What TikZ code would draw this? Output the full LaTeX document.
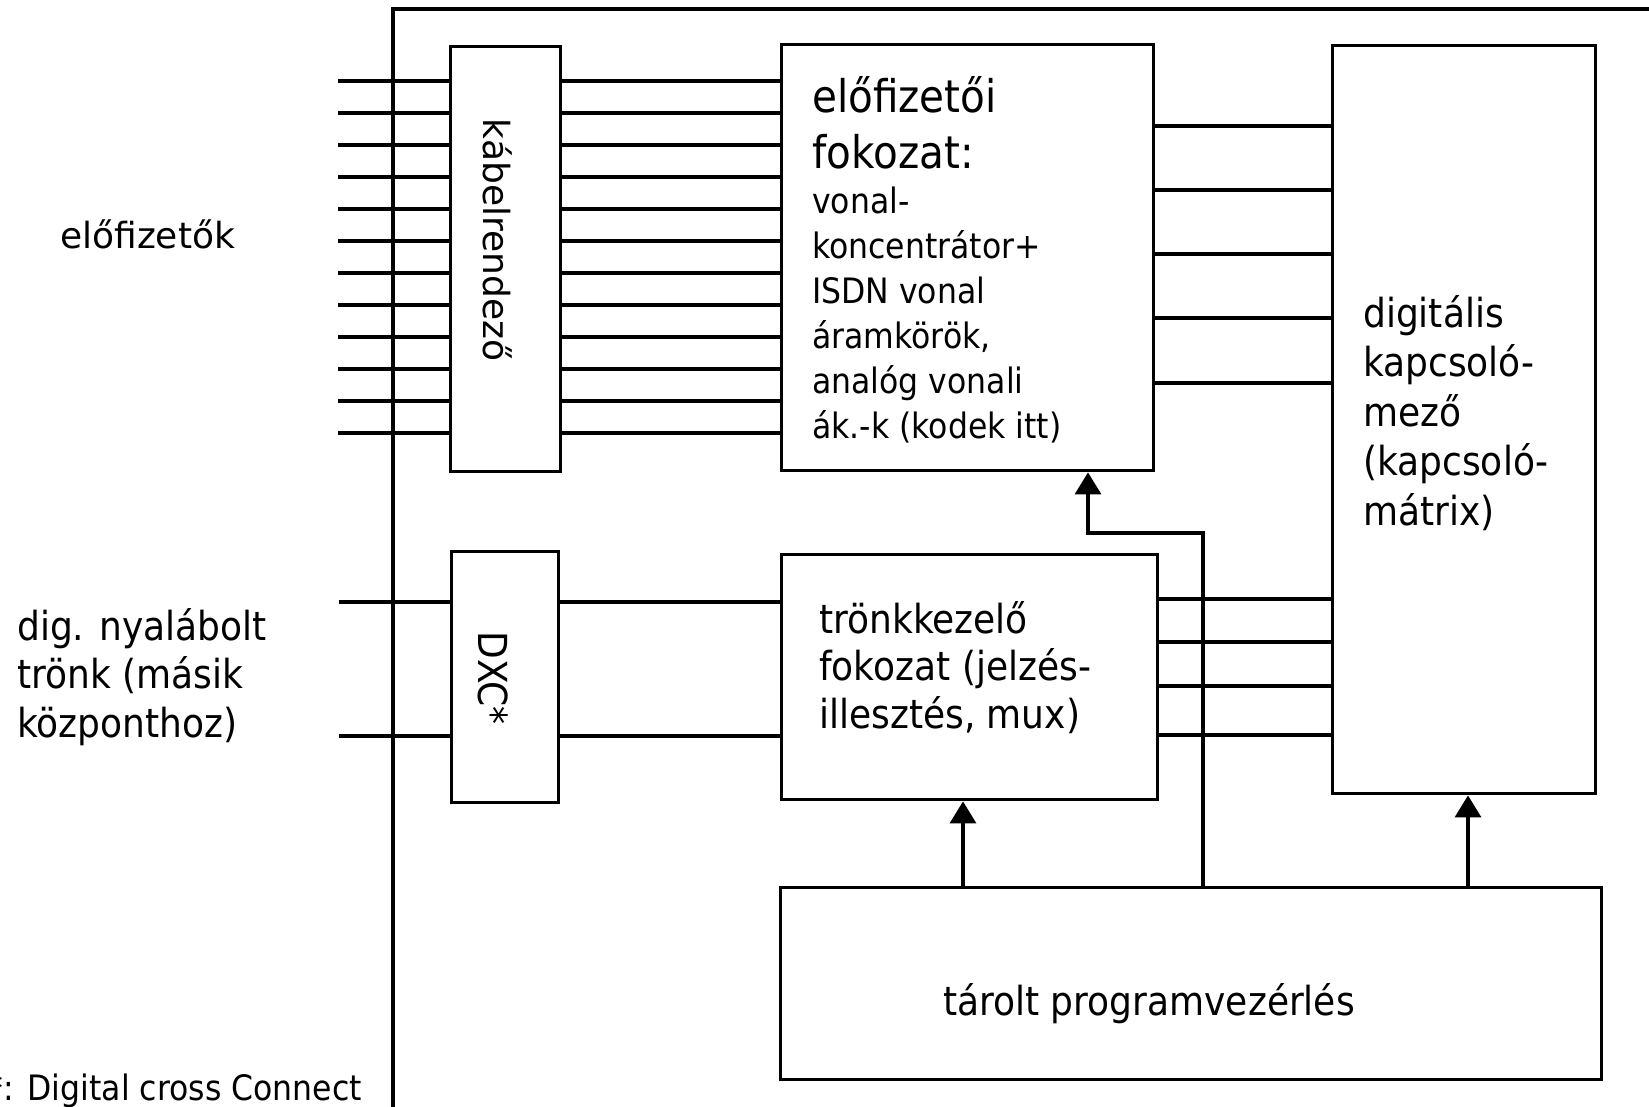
\documentclass[tikz,border=0pt]{standalone}
\usepackage{fontspec}
\setmainfont{DejaVu Sans}
\newfontfamily\tah{DejaVu Sans}[FakeStretch=0.9]
\usetikzlibrary{arrows.meta}
\begin{document}
\begin{tikzpicture}[x=1pt,y=-1pt,
  box/.style={draw, line width=3.4pt, rectangle, inner sep=0pt, anchor=north west},
  wire/.style={line width=3.4pt},
  ctl/.style={line width=3.4pt, -{Triangle[width=26pt,length=22pt]}},
  tt/.style={font=\tah\fontsize{40}{48.5}\selectfont, align=left, inner sep=0pt, anchor=base west},
  vt/.style={font=\fontsize{36}{44}\selectfont, inner sep=0pt},
]
\useasboundingbox (0,0) rectangle (1649,1106);
\clip (0,0) rectangle (1649,1106);
\fill[white] (0,0) rectangle (1649,1106);

% outer frame
\draw[wire] (393,1112) -- (393,9) -- (1655,9);

% boxes
\node[box, minimum width=110pt, minimum height=425pt] (kab) at (449,45) {};
\node[box, minimum width=372pt, minimum height=426pt] (elo) at (780,43) {};
\node[box, minimum width=263pt, minimum height=748pt] (dig) at (1331,44) {};
\node[box, minimum width=107pt, minimum height=251pt] (dxc) at (450,550) {};
\node[box, minimum width=376pt, minimum height=245pt] (tronk) at (780,553) {};
\node[box, minimum width=821pt, minimum height=192pt] (tarolt) at (779,886) {};

% texts
\node[vt, anchor=base west] (tsub) at (60,248) {előfizetők};
\node[vt, rotate=-90, anchor=base] (tkab) at (483,240) {kábelrendező};
\node[font=\tah\fontsize{40}{48}\selectfont, inner sep=0pt, rotate=-90, anchor=base] (tdxc) at (478,678) {DXC*};
\node[tt] (ttrunk) at (17,737) {dig. nyalábolt\\trönk (másik\\központhoz)};
\node[tt, font=\tah\fontsize{45}{56}\selectfont] (tel1) at (812,168) {előfizetői\\fokozat:};
\node[tt, font=\tah\fontsize{35}{45}\selectfont] (tel2) at (812,438) {vonal-\\koncentrátor+\\ISDN vonal\\áramkörök,\\analóg vonali\\ák.-k (kodek itt)};
\node[tt, font=\tah\fontsize{40}{49.5}\selectfont] (tdig) at (1363,525) {digitális\\kapcsoló-\\mező\\(kapcsoló-\\mátrix)};
\node[tt, font=\tah\fontsize{40}{47.5}\selectfont] (ttr) at (819,728) {trönkkezelő\\fokozat (jelzés-\\illesztés, mux)};
\node[tt] (ttar) at (943,1015) {tárolt programvezérlés};
\node[font=\tah\fontsize{35}{42}\selectfont, inner sep=0pt, anchor=base east] (tnote) at (362,1100) {*: Digital cross Connect};

% subscriber lines
\foreach \i in {0,...,11} {
  \coordinate (s\i) at (338,{81+32*\i});
  \draw[wire] (s\i) -- (s\i -| kab.west);
  \draw[wire] (s\i -| kab.east) -- (s\i -| elo.west);
}
% concentrator to switch
\foreach \y in {126,190,254,318,383} {
  \coordinate (c) at (0,\y);
  \draw[wire] (c -| elo.east) -- (c -| dig.west);
}
% trunks
\foreach \y in {602,736} {
  \coordinate (t) at (339,\y);
  \draw[wire] (t) -- (t -| dxc.west);
  \draw[wire] (t -| dxc.east) -- (t -| tronk.west);
}
\foreach \y in {599,642,686,735} {
  \coordinate (c) at (0,\y);
  \draw[wire] (c -| tronk.east) -- (c -| dig.west);
}
% control
\coordinate (xa) at (963,0);
\coordinate (xb) at (1468,0);
\coordinate (xc) at (1203,0);
\coordinate (bend) at (1088,533);
\draw[ctl] (tarolt.north -| xa) -- (tronk.south -| xa);
\draw[ctl] (tarolt.north -| xb) -- (dig.south -| xb);
\draw[ctl] (tarolt.north -| xc) |- (bend) -- (bend |- elo.south);
\end{tikzpicture}
\end{document}
